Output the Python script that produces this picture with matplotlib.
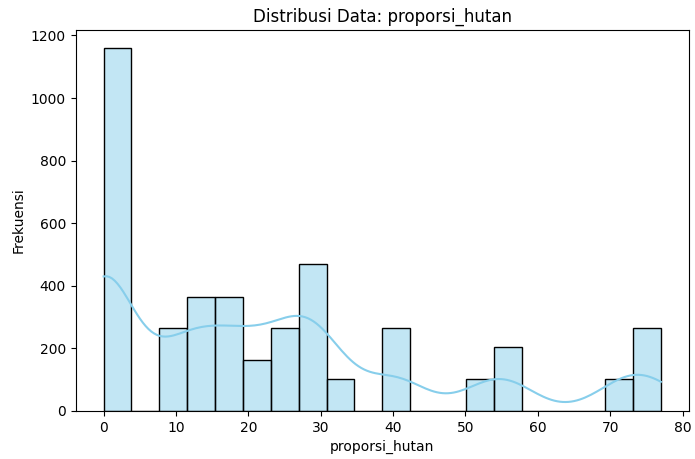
import numpy as np
import pandas as pd
import matplotlib
matplotlib.use("Agg")
import matplotlib.pyplot as plt
import seaborn as sns

# nilai proporsi hutan (%) dan berapa kali tiap nilai muncul
nilai = [0.0, 9.0, 13.0, 18.3, 22.0, 25.5, 29.0, 32.7, 40.4, 52.0, 55.8, 70.5, 74.0, 77.0]
frek = [1160, 265, 365, 365, 162, 265, 469, 102, 265, 102, 204, 102, 180, 85]

df = pd.DataFrame({"proporsi_hutan": np.repeat(nilai, frek)})

fig, ax = plt.subplots(figsize=(6.95, 4.59), dpi=100)
fig.subplots_adjust(left=0.109, right=0.991, top=0.935, bottom=0.105)

sns.histplot(df["proporsi_hutan"], bins=20, kde=True, color="skyblue",
             edgecolor="black", ax=ax)
ax.set_title("Distribusi Data: proporsi_hutan")
ax.set_xlabel("proporsi_hutan")
ax.set_ylabel("Frekuensi")

fig.savefig("out.png")
